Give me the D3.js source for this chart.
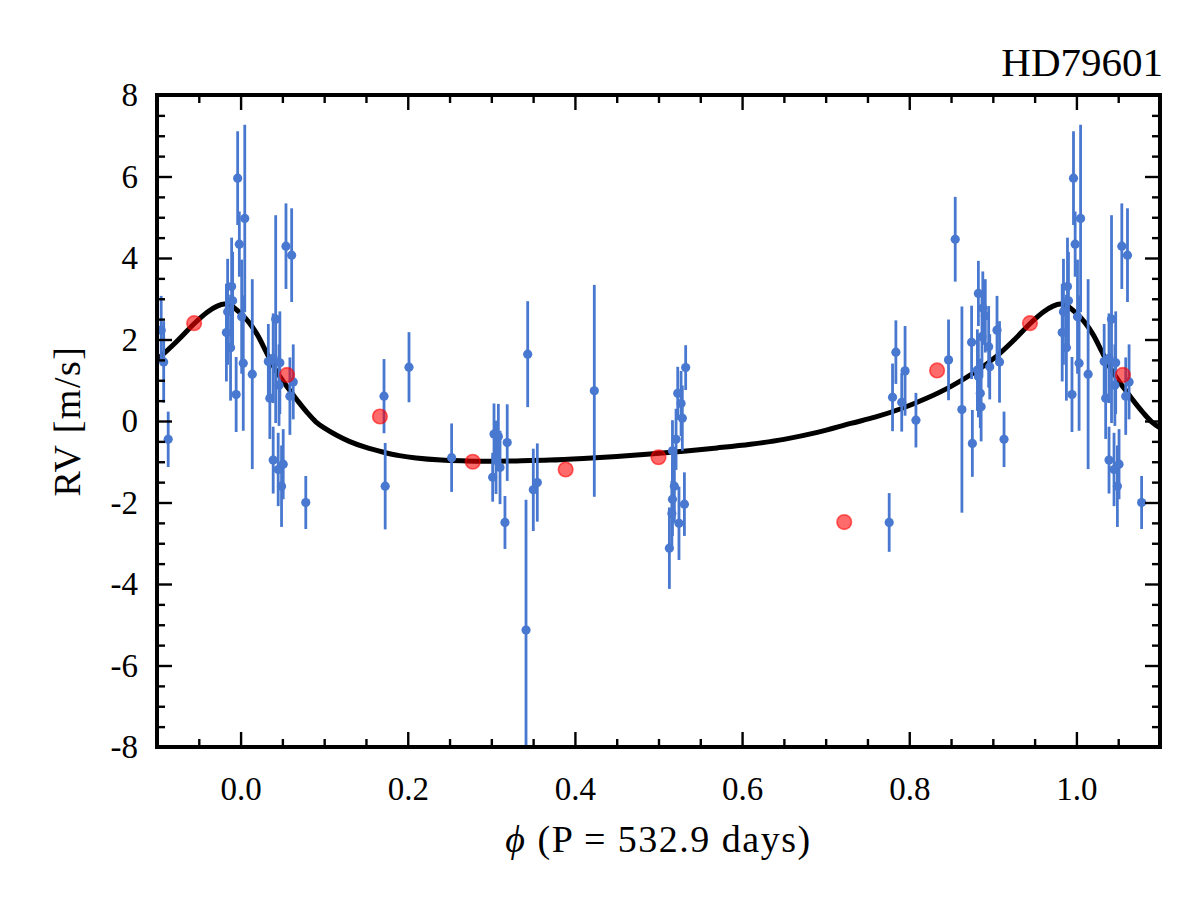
<!DOCTYPE html>
<html>
<head>
<meta charset="utf-8">
<script src="https://cdn.jsdelivr.net/npm/d3@7"></script>
<style>
  html, body { margin: 0; padding: 0; background: #fff; }
  svg { display: block; }
  text { font-family: "Liberation Serif", "DejaVu Serif", serif; fill: #000; }
</style>
</head>
<body>
<svg id="chart" width="1200" height="905"></svg>
<script>
// ---------------- DATA ----------------
const title = "HD79601";
const xLabel = "(P = 532.9 days)";
const yLabel = "RV [m/s]";

// blue measurements, phase in [0,1)
const obsPhase = [
  0.0013, 0.0032, 0.0050, 0.0140, 0.0332, 0.0350, 0.0390, 0.0390, 0.0420, 0.0450,
  0.0460, 0.0470, 0.0490, 0.0510, 0.0543, 0.0590, 0.0611, 0.0630, 0.0780,
  0.1716, 0.1730, 0.2015, 0.2525,
  0.3016, 0.3032, 0.3056, 0.3084, 0.3104, 0.3163, 0.3190, 0.3415, 0.3435, 0.3502, 0.3550,
  0.4232,
  0.5130, 0.5160, 0.5167, 0.5167, 0.5190, 0.5210, 0.5230, 0.5245, 0.5270, 0.5285, 0.5310, 0.5325,
  0.7760, 0.7800, 0.7840, 0.7910, 0.7950, 0.8080,
  0.8470, 0.8550, 0.8630,
  0.8746, 0.8755, 0.8815, 0.8827, 0.8827, 0.8850, 0.8860, 0.8870, 0.8880, 0.8910,
  0.8950, 0.8963, 0.9050, 0.9080, 0.9134,
  0.9830, 0.9845, 0.9880, 0.9893, 0.9905, 0.9947, 0.9965, 0.9985
];
const obsRV = [
  2.56, 1.42, 4.97, 1.15, 1.46, 0.56, 1.54, -0.96, 2.50, -1.19,
  0.88, 1.43, -1.60, -1.06, 4.29, 0.61, 4.07, 0.96, -2.00,
  0.61, -1.60, 1.32, -0.90,
  -1.38, -0.32, -0.89, -0.38, -1.14, -2.49, -0.53, -5.13, 1.64, -1.69, -1.51,
  0.74,
  -3.12, -2.27, -0.73, -1.92, -1.60, -0.45, 0.68, -2.51, 0.43, 0.07, -2.04, 1.31,
  -2.49, 0.58, 1.69, 0.46, 1.23, 0.02,
  1.50, 4.46, 0.28,
  1.93, -0.55, 1.25, 3.13, 1.09, 0.68, 0.35, 2.07, 2.77, 2.58,
  1.82, 1.33, 2.23, 1.45, -0.45,
  2.17, 2.68, 1.80, 3.30, 2.95, 0.65, 5.96, 4.34
];
const obsErr = [
  1.40, 1.66, 2.30, 2.33, 0.92, 1.00, 1.10, 0.82, 2.55, 0.90,
  1.00, 1.26, 1.00, 0.86, 1.05, 0.95, 1.15, 0.92, 0.65,
  0.91, 1.06, 0.86, 0.84,
  0.60, 0.75, 0.90, 0.80, 0.90, 0.65, 0.94, 3.20, 1.30, 1.01, 0.96,
  2.60,
  1.00, 0.80, 0.75, 0.90, 0.90, 0.75, 0.65, 0.90, 0.80, 0.80, 0.78, 0.55,
  0.72, 0.83, 0.78, 0.72, 1.10, 0.67,
  0.99, 1.04, 2.53,
  0.90, 0.82, 1.00, 0.80, 1.00, 0.85, 0.85, 1.00, 0.90, 0.90,
  1.00, 0.80, 0.84, 1.00, 0.68,
  1.20, 1.30, 1.30, 1.20, 1.20, 0.92, 1.15, 0.80
];

// red binned points, phase in [0,1)
const binPhase = [0.0556, 0.1667, 0.2778, 0.3889, 0.5000, 0.7222, 0.8333, 0.9444];
const binRV    = [1.13, 0.11, -1.00, -1.19, -0.89, -2.48, 1.24, 2.40];

// fitted orbit curve, phase in [0,1)
const fitPhase = [
  0.000, 0.010, 0.020, 0.030, 0.040, 0.050, 0.060, 0.070, 0.080, 0.090,
  0.100, 0.115, 0.130, 0.150, 0.170, 0.190, 0.210, 0.240, 0.270, 0.300,
  0.330, 0.370, 0.410, 0.450, 0.490, 0.530, 0.570, 0.610, 0.650, 0.690,
  0.730, 0.760, 0.790, 0.820, 0.850, 0.880, 0.905, 0.925, 0.945, 0.960,
  0.972, 0.981, 0.990
];
const fitRV = [
  2.64, 2.42, 2.12, 1.72, 1.32, 1.00, 0.72, 0.45, 0.20, -0.02,
  -0.17, -0.35, -0.50, -0.65, -0.76, -0.85, -0.91, -0.96, -0.98, -0.99,
  -0.98, -0.96, -0.92, -0.87, -0.81, -0.74, -0.66, -0.57, -0.45, -0.28,
  -0.06, 0.10, 0.30, 0.55, 0.85, 1.22, 1.60, 1.98, 2.40, 2.67,
  2.82, 2.87, 2.81
];

const xMajor = [0.0, 0.2, 0.4, 0.6, 0.8, 1.0];
const yMajor = [-8, -6, -4, -2, 0, 2, 4, 6, 8];

// ---------------- LAYOUT ----------------
const M = { left: 157, right: 1160, top: 95, bottom: 747 };
const xDomain = [-0.1, 1.1], yDomain = [-8, 8];
const blue = "#4878CF";

const svg = d3.select("#chart");
const x = d3.scaleLinear().domain(xDomain).range([M.left, M.right]);
const y = d3.scaleLinear().domain(yDomain).range([M.bottom, M.top]);

const xMinor = d3.range(-2, 23).map(i => +(i * 0.05).toFixed(2)).filter(v => v > -0.1 && v < 1.1 && !xMajor.some(m => Math.abs(m - v) < 1e-9));
const yMinor = d3.range(-16, 17).map(i => i * 0.5).filter(v => v > -8 && v < 8 && !yMajor.includes(v));

svg.append("defs").append("clipPath").attr("id", "plotclip")
  .append("rect").attr("x", M.left).attr("y", M.top)
  .attr("width", M.right - M.left).attr("height", M.bottom - M.top);

const shifts = [-1, 0, 1];
const inRange = v => v >= xDomain[0] - 0.001 && v <= xDomain[1] + 0.001;

const obs = [];
obsPhase.forEach((p, i) => shifts.forEach(s => {
  if (inRange(p + s)) obs.push({ ph: p + s, rv: obsRV[i], err: obsErr[i] });
}));
const bins = [];
binPhase.forEach((p, i) => shifts.forEach(s => {
  if (inRange(p + s)) bins.push({ ph: p + s, rv: binRV[i] });
}));
const fit = [];
fitPhase.forEach((p, i) => shifts.forEach(s => {
  const v = p + s;
  if (v >= -0.15 && v <= 1.15) fit.push({ ph: v, rv: fitRV[i] });
}));
fit.sort((a, b) => a.ph - b.ph);

const plot = svg.append("g").attr("clip-path", "url(#plotclip)");

plot.append("path")
  .datum(fit)
  .attr("fill", "none")
  .attr("stroke", "#000")
  .attr("stroke-width", 5)
  .attr("d", d3.line().x(d => x(d.ph)).y(d => y(d.rv)).curve(d3.curveCatmullRom.alpha(0.5)));

plot.append("g").selectAll("line").data(obs).join("line")
  .attr("x1", d => x(d.ph)).attr("x2", d => x(d.ph))
  .attr("y1", d => y(d.rv - d.err)).attr("y2", d => y(d.rv + d.err))
  .attr("stroke", blue).attr("stroke-width", 2.8);

plot.append("g").selectAll("circle").data(obs).join("circle")
  .attr("cx", d => x(d.ph)).attr("cy", d => y(d.rv)).attr("r", 4.6)
  .attr("fill", blue);

plot.append("g").selectAll("circle").data(bins).join("circle")
  .attr("cx", d => x(d.ph)).attr("cy", d => y(d.rv)).attr("r", 7.3)
  .attr("fill", "red").attr("fill-opacity", 0.58)
  .attr("stroke", "red").attr("stroke-opacity", 0.58).attr("stroke-width", 1.6);

// ---------------- AXES ----------------
function styleAxis(g) {
  g.select(".domain").remove();
  g.attr("font-family", null);
  g.selectAll(".tick line").attr("stroke", "#000").attr("stroke-width", 2.4);
  g.selectAll(".tick text").style("font-size", "33px").attr("fill", "#000");
}
const majorLen = 15, minorLen = 8;

svg.append("g").attr("transform", `translate(0,${M.bottom})`)
  .call(d3.axisBottom(x).tickValues(xMajor).tickSize(-majorLen).tickPadding(30).tickFormat(d3.format(".1f")))
  .call(styleAxis);
svg.append("g").attr("transform", `translate(0,${M.bottom})`)
  .call(d3.axisBottom(x).tickValues(xMinor).tickSize(-minorLen).tickFormat(""))
  .call(styleAxis);
svg.append("g").attr("transform", `translate(0,${M.top})`)
  .call(d3.axisTop(x).tickValues(xMajor).tickSize(-majorLen).tickFormat(""))
  .call(styleAxis);
svg.append("g").attr("transform", `translate(0,${M.top})`)
  .call(d3.axisTop(x).tickValues(xMinor).tickSize(-minorLen).tickFormat(""))
  .call(styleAxis);

svg.append("g").attr("transform", `translate(${M.left},0)`)
  .call(d3.axisLeft(y).tickValues(yMajor).tickSize(-majorLen).tickPadding(19).tickFormat(d => String(d)))
  .call(styleAxis);
svg.append("g").attr("transform", `translate(${M.left},0)`)
  .call(d3.axisLeft(y).tickValues(yMinor).tickSize(-minorLen).tickFormat(""))
  .call(styleAxis);
svg.append("g").attr("transform", `translate(${M.right},0)`)
  .call(d3.axisRight(y).tickValues(yMajor).tickSize(-majorLen).tickFormat(""))
  .call(styleAxis);
svg.append("g").attr("transform", `translate(${M.right},0)`)
  .call(d3.axisRight(y).tickValues(yMinor).tickSize(-minorLen).tickFormat(""))
  .call(styleAxis);

svg.append("rect")
  .attr("x", M.left).attr("y", M.top)
  .attr("width", M.right - M.left).attr("height", M.bottom - M.top)
  .attr("fill", "none").attr("stroke", "#000").attr("stroke-width", 4);

// ---------------- LABELS ----------------
svg.append("text")
  .attr("x", 1163).attr("y", 76)
  .attr("text-anchor", "end")
  .style("font-size", "41px")
  .text(title);

const xl = svg.append("text")
  .attr("x", (M.left + M.right) / 2).attr("y", 852)
  .attr("text-anchor", "middle")
  .style("font-size", "38px")
  .style("letter-spacing", "1.5px");
xl.append("tspan").style("font-style", "italic").text("\u03D5 ");
xl.append("tspan").text(xLabel);

svg.append("text")
  .attr("transform", `translate(80,${(M.top + M.bottom) / 2}) rotate(-90)`)
  .attr("text-anchor", "middle")
  .style("font-size", "38px")
  .style("letter-spacing", "1.5px")
  .text(yLabel);
</script>
</body>
</html>
